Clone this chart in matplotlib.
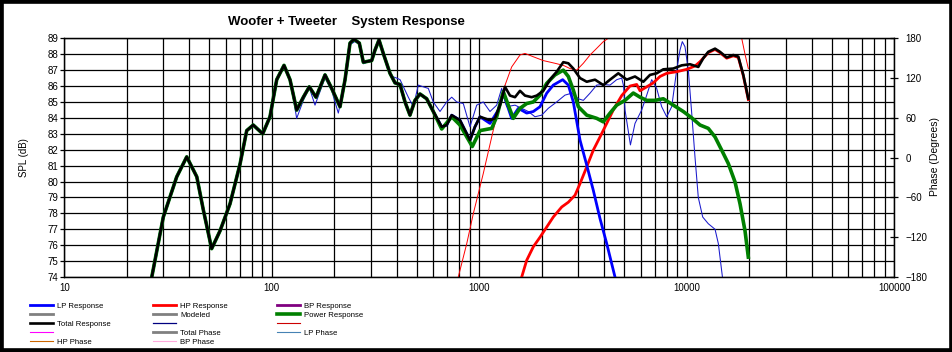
import numpy as np
import matplotlib
matplotlib.use('Agg')
from matplotlib import pyplot as plt
from matplotlib.lines import Line2D
from matplotlib.patches import Rectangle

plt.rcParams['font.family'] = ['Liberation Sans', 'DejaVu Sans']
plt.rcParams['lines.solid_joinstyle'] = 'round'

# Total response (SPL, dB)
total_freq = np.array([26.4, 30.0, 34.8, 38.9, 43.5, 46.8, 51.3, 56.3, 62.9, 70.3, 75.7, 81.4,
                       90.4, 98.0, 105.6, 114.5, 122.4, 131.8, 141.9, 151.6, 163.3, 180.5, 194.4,
                       213.2, 225.4, 238.2, 248.9, 264.1, 276.1, 303.0, 314.3, 328.6, 344.6, 371.2,
                       392.4, 414.8, 438.5, 463.4, 489.9, 517.8, 557.9, 600.1, 658.8, 696.6, 736.3,
                       807.0, 902.0, 953.0, 1008, 1126, 1190, 1258, 1330, 1406, 1486, 1571, 1660,
                       1788, 1891, 2034, 2191, 2360, 2540, 2686, 2838, 3058, 3294, 3611, 3960,
                       4266, 4676, 5133, 5628, 6173, 6647, 7159, 7704, 8610, 9449, 10360, 11360,
                       12010, 12690, 13680, 14450, 15570, 16750, 17710, 18720, 19790])
total_spl = np.array([74.0, 77.77, 80.29, 81.55, 80.3, 78.2, 75.78, 76.9, 78.6, 81.1, 83.2, 83.55,
                      83.0, 84.07, 86.4, 87.3, 86.4, 84.49, 85.3, 85.95, 85.3, 86.7, 85.85,
                      84.7, 86.4, 88.7, 88.94, 88.7, 87.5, 87.6, 88.26, 88.9, 88.05, 86.8,
                      86.2, 86.1, 85.0, 84.17, 85.1, 85.5, 85.2, 84.4, 83.44, 83.55, 84.17,
                      83.85, 82.6, 83.44, 84.07, 83.85, 83.97, 84.8, 85.95, 85.4, 85.3, 85.7, 85.4,
                      85.3, 85.4, 85.7, 86.4, 86.9, 87.5, 87.43, 87.1, 86.5, 86.27, 86.4, 86.06,
                      86.4, 86.8, 86.4, 86.6, 86.27, 86.7, 86.8, 87.05, 87.1, 87.3, 87.37, 87.2,
                      87.75, 88.15, 88.35, 88.15, 87.8, 87.95, 87.85, 86.7, 85.2])

# Power response above 640 Hz (below that it sits on the total)
power_freq_hi = np.array([658.8, 736.3, 807.0, 925.0, 1008, 1148, 1213, 1305, 1379, 1458, 1571,
                          1692, 1821, 1961, 2113, 2316, 2540, 2686, 2838, 3001, 3294, 3680, 3960,
                          4266, 4594, 5037, 5523, 5951, 6411, 7025, 7704, 8610, 9618, 10560, 11580,
                          12690, 13680, 14730, 15850, 17080, 18050, 19080, 19790])
power_spl_hi = np.array([83.3, 84.07, 83.55, 82.2, 83.2, 83.34, 84.07, 85.65, 84.8, 83.97, 84.6,
                         84.9, 85.0, 85.43, 86.17, 86.7, 87.0, 86.6, 85.75, 84.7, 84.17, 83.97, 83.75,
                         84.3, 84.8, 85.1, 85.56, 85.3, 85.1, 85.1, 85.2, 84.8, 84.4, 84.0, 83.55,
                         83.34, 82.8, 81.97, 81.13, 79.97, 78.6, 76.9, 75.25])

# LP response above 1 kHz (below that it sits on the total)
lp_freq_hi = np.array([1126, 1235, 1305, 1379, 1432, 1542, 1692, 1821, 1961, 2113, 2273, 2523,
                       2686, 2838, 3058, 3294, 3543, 3817, 4112, 4508, 4800])
lp_spl_hi = np.array([83.65, 84.5, 85.55, 84.6, 83.97, 84.6, 84.3, 84.4, 84.7, 85.55, 86.06, 86.4,
                      86.06, 85.0, 82.6, 81.03, 79.45, 77.67, 76.1, 74.0, 72.8])

# HP response
hp_freq = np.array([1520, 1601, 1692, 1821, 1961, 2113, 2273, 2496, 2686, 2893, 3058, 3294, 3543,
                    3817, 4112, 4425, 4856, 5324, 5735, 5951, 6411, 6895, 7426, 8000, 8939, 10000,
                    10950, 11580, 12690, 13680, 14450, 15570, 16750, 17710, 18720, 19790])
hp_spl = np.array([73.3, 74.0, 75.05, 75.9, 76.5, 77.14, 77.77, 78.4, 78.7, 79.14, 79.87, 80.92,
                   81.97, 82.8, 83.65, 84.5, 85.4, 86.0, 86.1, 85.7, 85.95, 86.2, 86.6, 86.8, 86.9,
                   87.05, 87.26, 87.53, 88.1, 88.3, 88.1, 87.75, 87.9, 87.8, 86.65, 85.15])

# thin red trace (no label)
red_thin_freq = np.array([750, 792, 870, 936, 1045, 1168, 1305, 1432, 1571, 1660, 1821, 2034, 2316,
                          2540, 2737, 2948, 3172, 3416, 3680, 3960, 4186, 4350, np.nan,
                          18050, 18390, 19080, 19790])
red_thin_spl = np.array([73.3, 74.0, 76.1, 77.99, 80.5, 83.23, 85.75, 87.2, 87.95, 88.05, 87.84,
                         87.6, 87.43, 87.3, 87.1, 87.0, 87.43, 87.95, 88.37, 88.79, 89.0, 89.4, np.nan,
                         89.4, 89.0, 88.0, 87.1])

# thin navy trace (no label), above 122 Hz
navy_freq_hi = np.array([131.8, 141.9, 151.6, 161.5, 180.5, 194.4, 209.2, 225.4, 238.2, 251.8,
                         264.1, 276.1, 303.0, 314.3, 328.6, 344.6, 371.2, 380.0, 400.0, 415.0,
                         454.9, 480.8, 508.2, 537.2, 567.9, 600.1, 646.6, 696.6, 736.3, 778.3,
                         837.3, 902.0, 971.6, 1045, 1126, 1213, 1282, 1355, 1486, 1601, 1722, 1855,
                         1998, 2150, 2360, 2588, 2789, 3001, 3172, 3416, 3680, 3960, 4266, 4594,
                         4856, 4960, 5037, 5350, 5628, 6064, 6411, 6773, 7159, 7568, 8000, 8458,
                         8939, 9272, 9512, 9801, 10170, 10560, 10950, 11360, 11930, 12690, 13680,
                         14190, 14850, 15100])
navy_spl_hi = np.array([83.97, 85.1, 85.9, 84.8, 86.5, 85.7, 84.3, 86.3, 88.6, 88.8,
                        88.6, 87.4, 87.6, 88.2, 88.8, 88.0, 86.8, 86.6, 86.5, 86.4,
                        85.3, 84.7, 86.06, 85.95, 85.85, 85.0, 84.4, 85.0, 85.3, 85.0,
                        84.9, 83.44, 84.8, 85.0, 84.4, 84.8, 85.85, 84.7, 84.8, 84.6, 84.4, 84.07,
                        84.17, 84.6, 85.0, 85.43, 85.55, 85.2, 85.1, 85.55, 86.06, 86.1, 86.06, 86.4,
                        86.5, 86.0, 84.5, 82.3, 83.65, 84.5, 85.43, 86.4, 85.85, 84.7, 84.07, 84.7,
                        87.0, 88.26, 88.79, 88.47, 87.0, 84.3, 81.55, 79.0, 77.77, 77.35, 77.0,
                        76.1, 74.0, 73.4])

x_ticks = [10, 100, 1000, 10000, 100000]
x_labels = ['10', '100', '1000', '10000', '100000']
spl_ticks = list(range(74, 90))
phase_ticks = [-180, -120, -60, 0, 60, 120, 180]

# combine shared low-frequency parts
power_freq = np.concatenate([total_freq[total_freq < 640], power_freq_hi])
power_spl = np.concatenate([total_spl[total_freq < 640], power_spl_hi])
lp_freq = np.concatenate([total_freq[total_freq <= 1008], lp_freq_hi])
lp_spl = np.concatenate([total_spl[total_freq <= 1008], lp_spl_hi])
navy_freq = np.concatenate([total_freq[total_freq <= 122.4], navy_freq_hi])
navy_spl = np.concatenate([total_spl[total_freq <= 122.4], navy_spl_hi])

W, H = 953, 352
fig = plt.figure(figsize=(W / 100, H / 100), dpi=100)
ax = fig.add_axes([64.3 / W, 1 - 277 / H, (894.3 - 64.3) / W, (277 - 38.3) / H])

ax.set_xscale('log')
ax.set_xlim(10, 100000)
ax.set_ylim(74, 89)
ax.set_yticks(spl_ticks)
ax.set_xticks(x_ticks)
ax.set_xticklabels(x_labels)
ax.xaxis.set_minor_formatter(matplotlib.ticker.NullFormatter())
ax.set_axisbelow(True)
ax.grid(which='both', axis='both', color='black', lw=0.9)
ax.tick_params(axis='x', which='both', length=0, pad=4.5, labelsize=7)
ax.tick_params(axis='y', direction='out', length=3, width=0.9, pad=1.5, labelsize=7)
for s in ax.spines.values():
    s.set_linewidth(0.9)

l_red_thin, = ax.plot(red_thin_freq, red_thin_spl, color='#ff0000', lw=0.7, zorder=2)
l_navy, = ax.plot(navy_freq, navy_spl, color='#1a1acc', lw=0.75, zorder=2)
l_hp, = ax.plot(hp_freq, hp_spl, color='#ff0000', lw=2.0, zorder=3)
l_lp, = ax.plot(lp_freq, lp_spl, color='#0000ff', lw=2.0, zorder=4)
l_pow, = ax.plot(power_freq, power_spl, color='#008000', lw=2.6, zorder=5)
l_tot, = ax.plot(total_freq, total_spl, color='black', lw=1.9, zorder=6)

ax2 = ax.twinx()
ax2.set_ylim(-180, 180)
ax2.set_yticks(phase_ticks)
ax2.tick_params(axis='y', direction='inout', length=6, width=0.9, pad=5, labelsize=7)
for s in ax2.spines.values():
    s.set_linewidth(0.9)

fig.text(24 / W, 1 - 157.5 / H, 'SPL (dB)', rotation=90, ha='center', va='center', fontsize=7)
fig.text(935 / W, 1 - 157 / H, 'Phase (Degrees)', rotation=90, ha='center', va='center', fontsize=7.5)
fig.text(228 / W, 1 - 22 / H, 'Woofer + Tweeter    System Response', ha='left', va='center',
         fontsize=9.5, fontweight='bold')

# legend, three columns
def proxy(c, lw):
    return Line2D([], [], color=c, lw=lw)

col1 = [(l_lp, 'LP Response'), (proxy('#808080', 2.0), ''), (l_tot, 'Total Response'),
        (proxy('#ff00ff', 0.8), ''), (proxy('#cc6600', 0.8), 'HP Phase')]
col2 = [(l_hp, 'HP Response'), (proxy('#808080', 2.0), 'Modeled'), (proxy('#000080', 0.9), ''),
        (proxy('#808080', 2.0), 'Total Phase'), (proxy('#ffaadd', 0.8), 'BP Phase')]
col3 = [(proxy('#800080', 2.0), 'BP Response'), (l_pow, 'Power Response'),
        (proxy('#cc0000', 0.8), ''), (proxy('#4682b4', 0.8), 'LP Phase')]

for x0, col in [(30, col1), (153, col2), (277, col3)]:
    fig.legend([h for h, t in col], [t for h, t in col], loc='upper left',
               bbox_to_anchor=(x0 / W, 1 - 302.5 / H), frameon=False, borderaxespad=0,
               borderpad=0, handlelength=3.0, handletextpad=0.5, labelspacing=0.2,
               fontsize=5.6)

fig.add_artist(Rectangle((0, 0), 1, 1, transform=fig.transFigure, fill=False,
                         edgecolor='black', lw=5.5))

fig.savefig('out.png', dpi=100)
